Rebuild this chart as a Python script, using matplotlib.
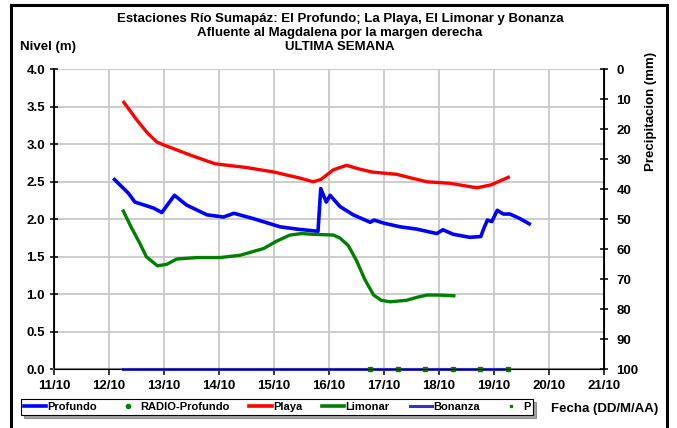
import matplotlib.pyplot as plt
from matplotlib.lines import Line2D
from matplotlib.patches import Rectangle

plt.rcParams['font.family'] = ['Liberation Sans', 'DejaVu Sans']
plt.rcParams['font.weight'] = 'bold'

# dias de octubre (fraccion de dia) y niveles
profundo_dia = [12.10, 12.35, 12.47, 12.81, 12.96, 13.19, 13.41, 13.78, 14.08, 14.27,
                14.62, 15.11, 15.41, 15.80, 15.85, 15.95, 16.02, 16.20, 16.44, 16.75,
                16.82, 16.99, 17.29, 17.59, 17.96, 18.07, 18.26, 18.56, 18.76, 18.81,
                18.88, 18.96, 19.06, 19.17, 19.29, 19.47, 19.64]
profundo_nivel = [2.53, 2.35, 2.23, 2.15, 2.09, 2.32, 2.19, 2.06, 2.03, 2.08,
                  2.01, 1.90, 1.87, 1.84, 2.41, 2.23, 2.32, 2.17, 2.06, 1.96,
                  1.99, 1.95, 1.90, 1.87, 1.81, 1.86, 1.80, 1.76, 1.77, 1.87,
                  1.99, 1.97, 2.12, 2.07, 2.07, 2.01, 1.94]

playa_dia = [12.27, 12.5, 12.7, 12.87, 13.0, 13.5, 13.93, 14.5, 15.0, 15.23, 15.47,
             15.71, 15.85, 16.08, 16.32, 16.5, 16.78, 17.23, 17.5, 17.78, 18.2,
             18.69, 18.95, 19.26]
playa_nivel = [3.56, 3.33, 3.15, 3.03, 2.99, 2.85, 2.74, 2.69, 2.63, 2.59, 2.55,
               2.50, 2.53, 2.66, 2.72, 2.68, 2.63, 2.60, 2.55, 2.50, 2.48,
               2.42, 2.46, 2.56]

limonar_dia = [12.26, 12.4, 12.56, 12.68, 12.88, 13.05, 13.23, 13.6, 14.02, 14.38,
               14.81, 15.05, 15.29, 15.5, 15.71, 16.08, 16.2, 16.35, 16.5, 16.65,
               16.81, 16.95, 17.11, 17.41, 17.6, 17.78, 18.0, 18.27]
limonar_nivel = [2.11, 1.90, 1.68, 1.50, 1.38, 1.40, 1.47, 1.49, 1.49, 1.52,
                 1.61, 1.71, 1.79, 1.81, 1.80, 1.79, 1.75, 1.65, 1.45, 1.20,
                 0.99, 0.92, 0.90, 0.92, 0.96, 0.99, 0.99, 0.98]

bonanza_dia = [12.26, 19.27]
bonanza_nivel = [0.0, 0.0]

p_dia = [16.75, 17.25, 17.75, 18.25, 18.75, 19.25]
p_valor = [0.0, 0.0, 0.0, 0.0, 0.0, 0.0]

dias = list(range(11, 22))
etiquetas = [f'{d}/10' for d in dias]

fig = plt.figure(figsize=(6.77, 4.28), dpi=100)
ax = fig.add_axes([54 / 677, 1 - 369.3 / 428, 550 / 677, 300 / 428])

ax.plot(profundo_dia, profundo_nivel, color='#0000ff', lw=2.6, zorder=4)
ax.plot(playa_dia, playa_nivel, color='#ff0000', lw=2.4, zorder=4)
ax.plot(limonar_dia, limonar_nivel, color='#008000', lw=2.4, zorder=4)
ax.plot(bonanza_dia, bonanza_nivel, color='#3333cc', lw=2.2, zorder=4, clip_on=False)
ax.plot(p_dia, p_valor, 's', color='#008000', ms=3, zorder=5, clip_on=False)

ax.set_xlim(11, 21)
ax.set_ylim(0, 4)
ax.set_xticks(dias)
ax.set_xticklabels(etiquetas)
ax.set_yticks([0, 0.5, 1, 1.5, 2, 2.5, 3, 3.5, 4])
ax.set_yticklabels([f'{v:.1f}' for v in [0, 0.5, 1, 1.5, 2, 2.5, 3, 3.5, 4]])
ax.grid(True, color='#c8c8c8', lw=1.3)
ax.set_axisbelow(True)
ax.spines['top'].set_visible(False)
ax.spines['bottom'].set_color('#808080')
ax.spines['bottom'].set_linewidth(1.5)
ax.spines['left'].set_linewidth(1.3)
ax.tick_params(axis='both', labelsize=9.5, direction='inout', length=6, width=1.1)
ax.tick_params(axis='x', direction='out', length=4, pad=4)
for t in ax.get_xticklabels() + ax.get_yticklabels():
    t.set_fontweight('bold')

ax2 = ax.twinx()
ax2.set_ylim(100, 0)
ax2.set_yticks(range(0, 101, 10))
ax2.spines['top'].set_visible(False)
ax2.spines['right'].set_linewidth(1.3)
ax2.tick_params(axis='y', labelsize=9.5, direction='inout', length=6, width=1.1, pad=6)
for t in ax2.get_yticklabels():
    t.set_fontweight('bold')

fig.text(340 / 677, 1 - 19 / 428, 'Estaciones Río Sumapáz: El Profundo; La Playa, El Limonar y Bonanza',
         ha='center', va='center', fontsize=9.5, fontweight='bold')
fig.text(340 / 677, 1 - 33 / 428, 'Afluente al Magdalena por la margen derecha',
         ha='center', va='center', fontsize=9.5, fontweight='bold')
fig.text(340 / 677, 1 - 47 / 428, 'ULTIMA SEMANA',
         ha='center', va='center', fontsize=9.5, fontweight='bold')
fig.text(20 / 677, 1 - 47 / 428, 'Nivel (m)', ha='left', va='center', fontsize=9.5, fontweight='bold')
fig.text(651 / 677, 1 - 52 / 428, 'Precipitacion (mm)', ha='center', va='top',
         rotation=90, fontsize=9.5, fontweight='bold')
fig.text(605 / 677, 1 - 409 / 428, 'Fecha (DD/M/AA)', ha='center', va='center',
         fontsize=9.5, fontweight='bold')

handles = [
    Line2D([], [], color='#0000ff', lw=2.6),
    Line2D([], [], color='#008000', marker='o', ls='none', ms=3),
    Line2D([], [], color='#ff0000', lw=2.6),
    Line2D([], [], color='#008000', lw=2.6),
    Line2D([], [], color='#3333cc', lw=2.2),
    Line2D([], [], color='#008000', marker='s', ls='none', ms=2),
]
labels = ['Profundo', 'RADIO-Profundo', 'Playa', 'Limonar', 'Bonanza', 'P']
leg = fig.legend(handles, labels, loc='center', bbox_to_anchor=(277 / 677, 1 - 407 / 428),
                 ncol=6, frameon=True, fancybox=False, shadow=True,
                 handlelength=2.0, handletextpad=0.1, columnspacing=1.8,
                 borderpad=0.25, borderaxespad=0, prop={'weight': 'bold', 'size': 8})
leg.get_frame().set_edgecolor('black')
leg.get_frame().set_linewidth(0.8)

fig.patches.append(Rectangle((11 / 677, -0.02), 656 / 677, 1.02 - 5 / 428,
                             transform=fig.transFigure, fill=False, edgecolor='black', lw=2.2))

fig.savefig('out.png', dpi=100)
